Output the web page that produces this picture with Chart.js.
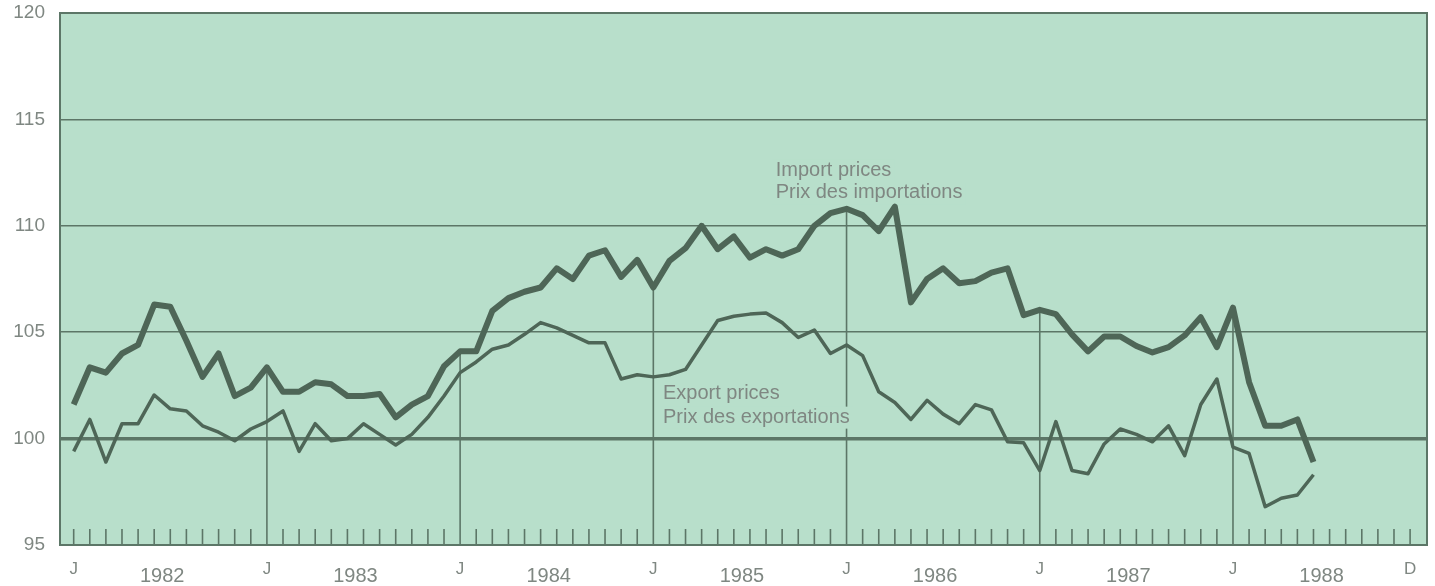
<!DOCTYPE html>
<html>
<head>
<meta charset="utf-8">
<script src="https://cdn.jsdelivr.net/npm/chart.js@4.4.1/dist/chart.umd.min.js"></script>
<style>
  html, body { margin: 0; padding: 0; background: #ffffff; }
  canvas { display: block; }
</style>
</head>
<body>
<canvas id="priceChart" width="1435" height="586"></canvas>
<script>
// monthly index, Jan 1982 .. Jun 1988
const importPrices = [
  101.6, 103.35, 103.1, 104.0, 104.4, 106.3, 106.2, 104.6, 102.9, 104.0, 102.0, 102.4,
  103.35, 102.2, 102.2, 102.65, 102.55, 102.0, 102.0, 102.1, 101.0, 101.6, 102.0, 103.4,
  104.1, 104.1, 106.0, 106.6, 106.9, 107.1, 108.0, 107.5, 108.6, 108.85, 107.6, 108.4,
  107.1, 108.35, 108.95, 110.0, 108.9, 109.5, 108.5, 108.9, 108.6, 108.9, 110.0, 110.6,
  110.8, 110.5, 109.75, 110.9, 106.4, 107.5, 108.0, 107.3, 107.4, 107.8, 108.0, 105.8,
  106.05, 105.85, 104.9, 104.1, 104.8, 104.8, 104.35, 104.05, 104.3, 104.85, 105.7, 104.3,
  106.15, 102.65, 100.6, 100.6, 100.9, 98.9
];
const exportPrices = [
  99.4, 100.9, 98.9, 100.7, 100.7, 102.05, 101.4, 101.3, 100.6, 100.3, 99.9, 100.45,
  100.8, 101.3, 99.4, 100.7, 99.9, 100.0, 100.7, 100.2, 99.7, 100.2, 101.0, 102.0,
  103.1, 103.6, 104.2, 104.4, 104.9, 105.45, 105.2, 104.85, 104.5, 104.5, 102.8, 103.0,
  102.9, 103.0, 103.25, 104.4, 105.55, 105.75, 105.85, 105.9, 105.45, 104.75, 105.1, 104.0,
  104.4, 103.9, 102.2, 101.7, 100.9, 101.8, 101.15, 100.7, 101.6, 101.35, 99.85, 99.8,
  98.5, 100.8, 98.5, 98.35, 99.75, 100.45, 100.2, 99.85, 100.6, 99.2, 101.6, 102.8,
  99.6, 99.3, 96.8, 97.2, 97.35, 98.3
];

const monthCount = 84; // Jan 1982 .. Dec 1988
const monthTickPos = [0, 12, 24, 36, 48, 60, 72, 83];
const monthTickText = ['J', 'J', 'J', 'J', 'J', 'J', 'J', 'D'];
const yearTickPos = [5.5, 17.5, 29.5, 41.5, 53.5, 65.5, 77.5];
const yearTickText = ['1982', '1983', '1984', '1985', '1986', '1987', '1988'];
const yTicks = [95, 100, 105, 110, 115, 120];

const importLabel = ['Import prices', 'Prix des importations'];
const exportLabel = ['Export prices', 'Prix des exportations'];

const PLOT_BG = '#b8dfcb';
const LINE = '#4e6657';
const GRID = '#5c7667';
const TEXT = '#7f8782';
const FONT = "'Liberation Sans', Arial, sans-serif";

const toPoints = arr => arr.map((v, i) => ({ x: i, y: v }));
const isYearTick = v => yearTickPos.includes(v);

const decorPlugin = {
  id: 'decor',
  beforeDraw(chart) {
    const { ctx, chartArea: a } = chart;
    ctx.save();
    ctx.fillStyle = PLOT_BG;
    ctx.fillRect(a.left, a.top, a.right - a.left, a.bottom - a.top);
    ctx.restore();
  },
  beforeDatasetsDraw(chart) {
    const { ctx, chartArea: a, scales: { x, y } } = chart;
    ctx.save();
    ctx.strokeStyle = GRID;
    ctx.lineWidth = 1.6;
    // month ticks, January lines run up to the import curve
    for (let m = 0; m < monthCount; m++) {
      const px = x.getPixelForValue(m);
      let top = a.bottom - 16;
      if (m % 12 === 0 && m > 0 && m < importPrices.length) {
        top = y.getPixelForValue(importPrices[m]);
      }
      ctx.beginPath();
      ctx.moveTo(px, a.bottom);
      ctx.lineTo(px, top);
      ctx.stroke();
    }

    // series labels
    ctx.font = '20px ' + FONT;
    ctx.textBaseline = 'alphabetic';
    ctx.textAlign = 'left';
    const drawLabel = (lines, xVal, yVals) => {
      const lx = x.getPixelForValue(xVal);
      lines.forEach((t, i) => {
        const ly = y.getPixelForValue(yVals[i]);
        const w = ctx.measureText(t).width;
        ctx.fillStyle = PLOT_BG;
        ctx.fillRect(lx - 3, ly - 16, w + 6, 22);
      });
      lines.forEach((t, i) => {
        ctx.fillStyle = TEXT;
        ctx.fillText(t, lx, y.getPixelForValue(yVals[i]));
      });
    };
    drawLabel(importLabel, 43.6, [112.35, 111.3]);
    drawLabel(exportLabel, 36.6, [101.85, 100.75]);

    // frame
    ctx.lineWidth = 2;
    ctx.strokeStyle = GRID;
    ctx.strokeRect(a.left, a.top, a.right - a.left, a.bottom - a.top);
    ctx.restore();
  }
};

const ctx = document.getElementById('priceChart').getContext('2d');
new Chart(ctx, {
  type: 'line',
  data: {
    datasets: [
      {
        label: 'Import prices',
        data: toPoints(importPrices),
        borderColor: LINE,
        borderWidth: 6,
        pointRadius: 0,
        tension: 0,
        borderJoinStyle: 'round',
        borderCapStyle: 'butt'
      },
      {
        label: 'Export prices',
        data: toPoints(exportPrices),
        borderColor: LINE,
        borderWidth: 3.5,
        pointRadius: 0,
        tension: 0,
        borderJoinStyle: 'round',
        borderCapStyle: 'butt'
      }
    ]
  },
  options: {
    responsive: false,
    animation: false,
    layout: { padding: { top: 13, right: 8, left: 0, bottom: 0 } },
    plugins: {
      legend: { display: false },
      tooltip: { enabled: false }
    },
    scales: {
      x: {
        type: 'linear',
        min: -0.85,
        max: 84.05,
        grid: { display: false },
        border: { display: false },
        afterBuildTicks: s => {
          s.ticks = monthTickPos.concat(yearTickPos).sort((a, b) => a - b).map(v => ({ value: v }));
        },
        afterFit: s => { s.height = 41; s.paddingLeft = 0; s.paddingRight = 0; },
        ticks: {
          autoSkip: false,
          maxRotation: 0,
          padding: 6,
          color: TEXT,
          font: c => (c.tick && isYearTick(c.tick.value)
            ? { family: FONT, size: 20, lineHeight: 0.575 }
            : { family: FONT, size: 17 }),
          callback: v => (isYearTick(v)
            ? ['', yearTickText[yearTickPos.indexOf(v)]]
            : monthTickText[monthTickPos.indexOf(v)])
        }
      },
      y: {
        min: 95,
        max: 120,
        afterBuildTicks: s => { s.ticks = yTicks.map(v => ({ value: v })); },
        afterFit: s => { s.width = 60; s.paddingTop = 0; s.paddingBottom = 0; },
        border: { display: false },
        grid: {
          color: GRID,
          drawTicks: false,
          lineWidth: c => (c.tick && c.tick.value === 100 ? 3.5 : 1.6)
        },
        ticks: {
          padding: 15,
          color: TEXT,
          font: { family: FONT, size: 19 }
        }
      }
    }
  },
  plugins: [decorPlugin]
});
</script>
</body>
</html>
